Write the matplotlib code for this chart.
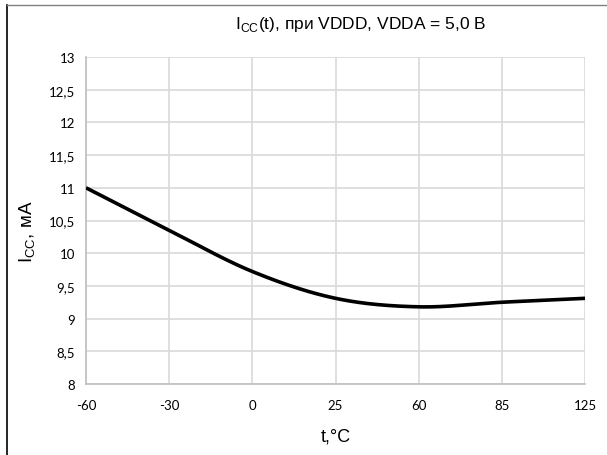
import numpy as np
import matplotlib.pyplot as plt
from matplotlib.lines import Line2D

# ---------- data
temps = ['-60', '-30', '0', '25', '60', '85', '125']
icc = [11.0, 10.35, 9.72, 9.31, 9.18, 9.25, 9.31]
yticks = [8, 8.5, 9, 9.5, 10, 10.5, 11, 11.5, 12, 12.5, 13]
ytick_labels = ['8', '8,5', '9', '9,5', '10', '10,5', '11', '11,5', '12', '12,5', '13']


def excel_smooth(x, y, n=40):
    # bezier smoothing like the "smoothed line" option in spreadsheets
    x = np.asarray(x, float)
    y = np.asarray(y, float)
    px = np.concatenate([[x[0]], x, [x[-1]]])
    py = np.concatenate([[y[0]], y, [y[-1]]])
    xs, ys = [], []
    t = np.linspace(0, 1, n)
    for i in range(len(x) - 1):
        p0 = np.array([px[i + 1], py[i + 1]])
        p3 = np.array([px[i + 2], py[i + 2]])
        p1 = p0 + (np.array([px[i + 2], py[i + 2]]) - np.array([px[i], py[i]])) / 6
        p2 = p3 - (np.array([px[i + 3], py[i + 3]]) - np.array([px[i + 1], py[i + 1]])) / 6
        b = ((1 - t) ** 3)[:, None] * p0 + (3 * (1 - t) ** 2 * t)[:, None] * p1 \
            + (3 * (1 - t) * t ** 2)[:, None] * p2 + (t ** 3)[:, None] * p3
        xs.extend(b[:, 0])
        ys.extend(b[:, 1])
    return xs, ys


fig = plt.figure(figsize=(6.07, 4.56), dpi=100)
ax = fig.add_axes([0.1417, 0.1557, 0.8221, 0.7171])

xpos = np.arange(len(temps))
sx, sy = excel_smooth(xpos, icc)
ax.plot(sx, sy, color='black', lw=2.6, solid_capstyle='butt', zorder=3)

ax.set_xlim(0, len(temps) - 1)
ax.set_ylim(8, 13)
ax.set_xticks(xpos)
ax.set_xticklabels(temps, fontsize=9.5, family='Lato')
ax.set_yticks(yticks)
ax.set_yticklabels(ytick_labels, fontsize=9.5, family='Lato')
ax.tick_params(length=0, pad=11)
ax.tick_params(axis='y', pad=8)
ax.grid(True, color='#d9d9d9', lw=1.2)
for s in ['top', 'right']:
    ax.spines[s].set_visible(False)
for s in ['left', 'bottom']:
    ax.spines[s].set_color('#bfbfbf')
    ax.spines[s].set_linewidth(1.2)

ax.set_title(r'I$_{\mathregular{CC}}$(t), при VDDD, VDDA = 5,0 В',
             fontsize=12.5, family='Liberation Sans', pad=21, x=0.55)
ax.set_ylabel(r'I$_{\mathregular{CC}}$, мА', fontsize=13.5, family='Liberation Sans')
ax.yaxis.set_label_coords(-0.097, 0.47)
ax.set_xlabel('t,°C', fontsize=13, family='Liberation Sans', labelpad=12)

# frame edges of the cropped chart area
fig.add_artist(Line2D([7 / 607, 7 / 607], [0, 1 - 6 / 456], color='black', lw=1.2))
fig.add_artist(Line2D([7 / 607, 1], [1 - 6 / 456, 1 - 6 / 456], color='#808080', lw=1.0))

fig.savefig('out.png', dpi=100)
